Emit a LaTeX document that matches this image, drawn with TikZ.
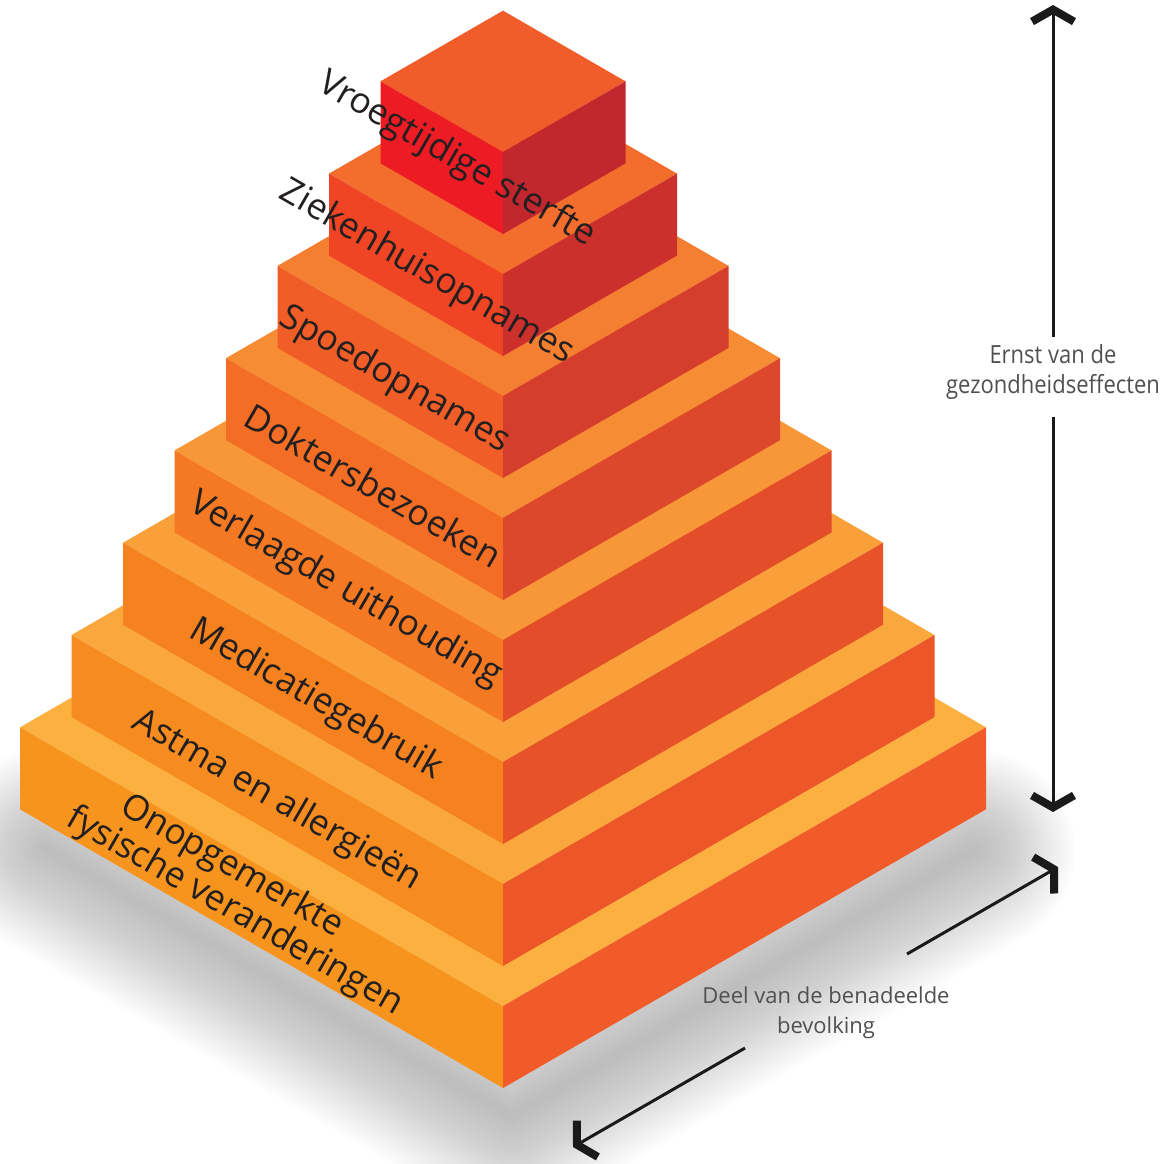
\documentclass[tikz,border=0pt]{standalone}
\usepackage{fontspec}
\setmainfont{Open Sans}
\newfontfamily\axisfont[FakeStretch=0.88]{Open Sans}
\usetikzlibrary{arrows.meta,calc}
\definecolor{L0}{HTML}{F7941E}\definecolor{T0}{HTML}{FBB040}\definecolor{R0}{HTML}{F15A29}
\definecolor{L1}{HTML}{F68B1F}\definecolor{T1}{HTML}{FAA83D}\definecolor{R1}{HTML}{EC5628}
\definecolor{L2}{HTML}{F5821F}\definecolor{T2}{HTML}{F9A03A}\definecolor{R2}{HTML}{E85229}
\definecolor{L3}{HTML}{F47922}\definecolor{T3}{HTML}{F79737}\definecolor{R3}{HTML}{E34D2A}
\definecolor{L4}{HTML}{F36D24}\definecolor{T4}{HTML}{F68C34}\definecolor{R4}{HTML}{DD472B}
\definecolor{L5}{HTML}{F15D26}\definecolor{T5}{HTML}{F57F31}\definecolor{R5}{HTML}{D53D2C}
\definecolor{L6}{HTML}{EF4524}\definecolor{T6}{HTML}{F36E2D}\definecolor{R6}{HTML}{CB302D}
\definecolor{L7}{HTML}{ED1C24}\definecolor{T7}{HTML}{F15D2A}\definecolor{R7}{HTML}{C1272D}
\definecolor{labeltext}{HTML}{231F20}
\definecolor{axistext}{HTML}{505050}
\definecolor{axiscol}{HTML}{1A1A1A}
\begin{document}
\begin{tikzpicture}[x=1pt,y=-1pt,
  tierlabel/.style={rotate=-30, anchor=base, text=labeltext, inner sep=0pt,
    font=\fontsize{35.5}{42}\selectfont},
  axislabel/.style={text=axistext, align=center, inner sep=0pt,
    font=\axisfont\fontsize{25}{30}\selectfont},
  poplabel/.style={text=axistext, align=center, inner sep=0pt,
    font=\fontsize{22}{30}\selectfont},
  axisline/.style={line width=3pt, draw=axiscol,
    -{Straight Barb[length=12pt,width=42pt,line width=8pt]}},
  shadowstroke/.style={draw=black, line join=round, line cap=round, opacity=0.012}
]
\useasboundingbox (0,0) rectangle (1173,1163);
% soft shadow on the floor
\coordinate (s1) at (45,849);
\coordinate (s2) at (511,1116);
\coordinate (s3) at (975,850);
\foreach \w in {200,192,...,8} {
  \draw[shadowstroke, line width=\w pt] (s1) -- (s2) -- (s3);
}
% stepped pyramid
\foreach \i in {0,...,7} {
  \pgfmathsetmacro\F{1088-122*\i}
  \pgfmathsetmacro\W{483-51.5*\i}
  \pgfmathsetmacro\H{82}
  \pgfmathsetmacro\D{\W*0.577}
  \fill[T\i] (503,\F-\H) -- (503-\W,\F-\H-\D) -- (503,\F-\H-2*\D) -- (503+\W,\F-\H-\D) -- cycle;
  \fill[L\i] (503-\W,\F-\D) -- (503,\F) -- (503,\F-\H) -- (503-\W,\F-\D-\H) -- cycle;
  \fill[R\i] (503+\W,\F-\D) -- (503,\F) -- (503,\F-\H) -- (503+\W,\F-\D-\H) -- cycle;
}
% tier labels
\node[tierlabel] (t7) at (452,168) {Vroegtijdige sterfte};
\node[tierlabel] (t6) at (422,281) {Ziekenhuisopnames};
\node[tierlabel] (t5) at (390,388) {Spoedopnames};
\node[tierlabel] (t4) at (367,497) {Doktersbezoeken};
\node[tierlabel] (t3) at (341,598) {Verlaagde uithouding};
\node[tierlabel] (t2) at (311,708) {Medicatiegebruik};
\node[tierlabel] (t1) at (272,809) {Astma en allergieën};
\node[tierlabel] (t0a) at (227,875) {Onopgemerkte};
\node[tierlabel] (t0b) at (230,920) {fysische veranderingen};
% severity axis
\coordinate (vtop) at (1053,5);
\coordinate (va) at (1053,337);
\coordinate (vb) at (1053,417);
\coordinate (vbot) at (1053,812);
\node[axislabel] (sev) at (1053,372) {Ernst van de\\gezondheidseffecten};
\draw[axisline] (va) -- (vtop);
\draw[axisline] (vb) -- (vbot);
% population axis
\coordinate (dlow) at (573,1147);
\coordinate (da) at (745,1048);
\coordinate (db) at (907,954);
\coordinate (dhigh) at (1058,867);
\node[poplabel] (pop) at (826,1013) {Deel van de benadeelde\\bevolking};
\draw[axisline] (da) -- (dlow);
\draw[axisline] (db) -- (dhigh);
\end{tikzpicture}
\end{document}
